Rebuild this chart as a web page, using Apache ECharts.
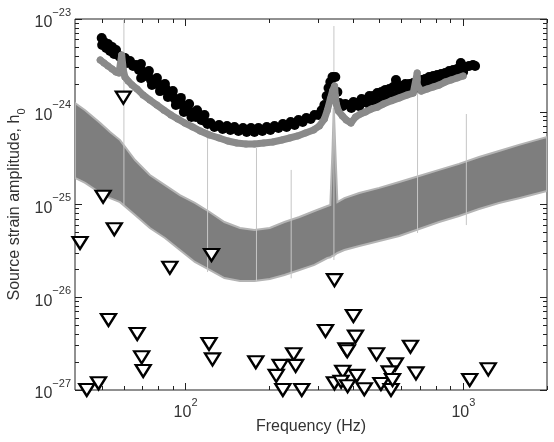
<!DOCTYPE html>
<html>
<head>
<meta charset="utf-8">
<script src="https://cdn.jsdelivr.net/npm/echarts@6/dist/echarts.min.js"></script>
<style>
  html, body { margin: 0; padding: 0; background: #fff; }
  #chart { width: 554px; height: 442px; }
</style>
</head>
<body>
<div id="chart"></div>
<script>
// axis ranges and ticks (Hz, strain)
const xRange = [40, 2000];
const yRange = [1e-27, 1e-23];
const xMajor = [100, 1000];
const xMinor = [50, 60, 70, 80, 90, 200, 300, 400, 500, 600, 700, 800, 900, 2000];
const yMajor = [1e-27, 1e-26, 1e-25, 1e-24, 1e-23];
const yMinorMult = [2, 3, 4, 5, 6, 7, 8, 9];

// noise band envelope
const bandFreq = [40, 43.5, 49.3, 53.5, 58.1, 65.8, 74.4, 84.3, 95.4, 108, 122, 138, 157, 177, 201, 227, 257, 291, 324, 332, 338, 341.6, 346, 352, 373, 422, 498, 588, 693, 818, 965, 1139, 1343, 1585, 2000];
const bandUpper = [1.24e-24, 1.04e-24, 7.57e-25, 6.05e-25, 4.95e-25, 3.02e-25, 2.08e-25, 1.62e-25, 1.26e-25, 1.04e-25, 8.3e-26, 6.47e-26, 5.58e-26, 5.31e-26, 5.58e-26, 6.47e-26, 7.33e-26, 8.51e-26, 9.64e-26, 9.88e-26, 3.87e-25, 1.10e-24, 3.87e-25, 1.06e-25, 1.17e-25, 1.33e-25, 1.51e-25, 1.75e-25, 2.03e-25, 2.36e-25, 2.74e-25, 3.25e-25, 3.78e-25, 4.39e-25, 5.35e-25];
const bandLower = [1.93e-25, 1.71e-25, 1.33e-25, 1.17e-25, 1.06e-25, 7.71e-26, 5.58e-26, 4.36e-26, 3.23e-26, 2.40e-26, 1.97e-26, 1.61e-26, 1.50e-26, 1.50e-26, 1.57e-26, 1.74e-26, 1.97e-26, 2.23e-26, 2.65e-26, 2.7e-26, 2.8e-26, 2.8e-26, 2.9e-26, 3.0e-26, 3.23e-26, 3.57e-26, 4.04e-26, 4.57e-26, 5.45e-26, 6.47e-26, 7.52e-26, 8.93e-26, 1.04e-25, 1.17e-25, 1.40e-25];

// narrow spectral lines
const spikeFreq = [60, 120, 180, 240, 342, 684, 1025];
const spikeTop = [1e-23, 8.57e-25, 4.06e-25, 2.36e-25, 8.4e-24, 2.37e-24, 9.46e-25];
const spikeBottom = [9.9e-26, 1.87e-26, 1.5e-26, 1.6e-26, 2.52e-26, 4.93e-26, 6.0e-26];

// black dots [Hz, h0]
const blackDots = [[49.9,6.24e-24],[50.1,5.24e-24],[50.9,5.65e-24],[51.8,4.87e-24],[52.6,5.38e-24],[53.5,4.52e-24],[54.4,4.99e-24],[55.3,4.20e-24],[56.2,4.63e-24],[57.1,4.09e-24],[58.1,3.89e-24],[60.5,3.80e-24],[61.5,3.35e-24],[63.1,3.53e-24],[64.7,3.11e-24],[66.3,3.19e-24],[68.0,2.82e-24],[69.7,2.75e-24],[71.4,2.43e-24],[73.2,2.49e-24],[75.1,2.20e-24],[76.9,2.09e-24],[78.9,1.99e-24],[80.9,1.94e-24],[82.9,1.72e-24],[85.0,1.76e-24],[87.1,1.55e-24],[89.3,1.52e-24],[91.5,1.37e-24],[93.8,1.27e-24],[96.2,1.24e-24],[98.6,1.13e-24],[101,1.10e-24],[104,9.94e-25],[106,9.69e-25],[109,8.78e-25],[112,9.00e-25],[114,8.15e-25],[117,7.95e-25],[120,7.38e-25],[123,7.56e-25],[127,6.85e-25],[132,7.20e-25],[136,6.52e-25],[141,7.02e-25],[145,6.36e-25],[150,6.85e-25],[155,6.20e-25],[161,6.68e-25],[166,6.05e-25],[172,6.68e-25],[177,6.05e-25],[183,6.68e-25],[189,6.20e-25],[196,6.85e-25],[202,6.36e-25],[209,7.02e-25],[216,6.68e-25],[224,7.38e-25],[231,6.85e-25],[239,7.75e-25],[247,7.20e-25],[255,8.15e-25],[264,7.75e-25],[272,8.56e-25],[282,8.35e-25],[291,9.23e-25],[301,9.23e-25],[309,1.04e-24],[316,1.18e-24],[322,1.48e-24],[327,1.80e-24],[332,2.09e-24],[338,2.37e-24],[346,2.37e-24],[352,1.63e-24],[358,1.24e-24],[367,1.15e-24],[376,1.21e-24],[389,1.18e-24],[402,1.27e-24],[415,1.24e-24],[430,1.37e-24],[444,1.34e-24],[459,1.48e-24],[474,1.48e-24],[490,1.59e-24],[507,1.63e-24],[524,1.72e-24],[541,1.76e-24],[572,2.20e-24],[559,1.85e-24],[578,1.90e-24],[598,1.90e-24],[618,1.99e-24],[639,1.99e-24],[660,2.04e-24],[682,2.15e-24],[705,2.20e-24],[729,2.25e-24],[753,2.37e-24],[779,2.43e-24],[805,2.49e-24],[832,2.55e-24],[860,2.62e-24],[889,2.75e-24],[919,2.82e-24],[949,2.89e-24],[979,3.35e-24],[981,2.96e-24],[1014,3.04e-24],[1048,3.11e-24],[1083,3.19e-24],[1102,3.11e-24],
  [69.1,3.27e-24],[73.8,2.75e-24],[78.9,2.31e-24],[84.3,1.99e-24],[90.0,1.67e-24],[96.2,1.41e-24],[103,1.21e-24],[110,1.04e-24],[117,9.23e-25],
  [69.2,2.31e-24],[75.7,1.94e-24],[80.9,1.67e-24],[86.4,1.44e-24],[92.3,1.18e-24],[98.6,9.94e-25],[105,8.78e-25],
  [395,1.10e-24],[422,1.15e-24],[451,1.24e-24],[482,1.31e-24],[515,1.41e-24],[550,1.52e-24],[588,1.59e-24],[628,1.72e-24],[671,1.80e-24],[717,1.94e-24],[766,2.09e-24],[818,2.20e-24],[874,2.37e-24],[934,2.49e-24],[998,2.68e-24]];

// grey dots [Hz, h0], in frequency order
const greyDots = [[49.3,3.61e-24],[50.9,3.35e-24],[52.6,3.11e-24],[54.4,2.89e-24],[56.2,2.68e-24],[57.6,2.62e-24],[58.9,4.09e-24],[59.7,2.82e-24],[60.5,2.37e-24],[62.1,2.15e-24],[64.2,1.94e-24],[66.9,1.76e-24],[70.3,1.52e-24],[74.4,1.34e-24],[78.9,1.18e-24],[83.6,1.04e-24],[88.6,9.23e-25],[93.8,8.35e-25],[99.4,7.56e-25],[106,6.85e-25],[113,6.20e-25],[122,5.61e-25],[132,5.21e-25],[142,4.84e-25],[153,4.60e-25],[165,4.49e-25],[177,4.49e-25],[191,4.60e-25],[206,4.72e-25],[222,4.96e-25],[237,5.21e-25],[253,5.48e-25],[270,5.90e-25],[289,6.36e-25],[303,7.02e-25],[316,8.35e-25],[324,1.04e-24],[332,1.37e-24],[338,1.67e-24],[344,1.90e-24],[346,1.48e-24],[349,1.21e-24],[355,1.02e-24],[367,9.00e-25],[379,8.15e-25],[394,7.56e-25],[409,8.78e-25],[426,9.46e-25],[444,9.94e-25],[466,1.07e-24],[490,1.12e-24],[515,1.21e-24],[550,1.31e-24],[588,1.41e-24],[628,1.52e-24],[660,1.59e-24],[682,2.62e-24],[682,2.25e-24],[682,1.94e-24],[705,1.67e-24],[741,1.76e-24],[779,1.85e-24],[818,1.94e-24],[860,2.09e-24],[903,2.20e-24],[949,2.31e-24],[998,2.43e-24]];

// open triangles [Hz, h0]
const triangles = [[41.7,3.85e-26],[124,2.85e-26],[87.8,2.08e-26],[343.5,1.53e-26],[52.8,5.69e-27],[402,6.28e-27],[67.0,4.02e-27],[319,4.33e-27],[409,3.76e-27],[121.5,3.13e-27],[378,2.75e-27],[382,2.62e-27],[245,2.43e-27],[487,2.43e-27],[645,2.93e-27],[69.5,2.25e-27],[125,2.14e-27],[179,1.99e-27],[219,1.82e-27],[249,1.82e-27],[569,1.89e-27],[70.4,1.60e-27],[368,1.57e-27],[541,1.55e-27],[675,1.51e-27],[1229,1.67e-27],[212,1.42e-27],[413,1.42e-27],[1054,1.28e-27],[48.6,1.18e-27],[44.1,1.0e-27],[224,1.0e-27],[262,1.0e-27],[343.5,1.18e-27],[363,1.23e-27],[383,1.10e-27],[440,1.02e-27],[505,1.16e-27],[549,1.0e-27],[556,1.28e-27],[59.7,1.42e-24],[50.5,1.21e-25],[55.4,5.41e-26]];

const lg = Math.log10;
const font = 'Liberation Sans';
const ink = '#222';
const greyDot = '#8a8a8a';

const yMinor = [];
for (let d = -27; d < -23; d++) yMinorMult.forEach(m => yMinor.push(m * Math.pow(10, d)));

function powLabel(v) {
  const e = Math.round(v);
  return '{b|10}{s|' + (e < 0 ? '\u2212' + (-e) : e) + '}';
}
const rich = {
  b: { fontSize: 16, lineHeight: 24, verticalAlign: 'bottom', color: '#333', fontFamily: font },
  s: { fontSize: 11, verticalAlign: 'top', color: '#333', fontFamily: font }
};

function axis(dim, pos, ticks, len, withLabels) {
  const range = dim === 'x' ? xRange : yRange;
  const vals = ticks.map(lg);
  return {
    type: 'value',
    position: pos,
    min: lg(range[0]),
    max: lg(range[1]),
    nameMoveOverlap: false,
    axisLine: { show: false },
    splitLine: { show: false },
    axisTick: { show: true, inside: true, length: len, customValues: vals, lineStyle: { color: ink, width: 1 } },
    axisLabel: withLabels
      ? { show: true, customValues: vals, formatter: powLabel, rich: rich, margin: dim === 'x' ? 7 : 4 }
      : { show: false }
  };
}

const xAxes = [
  axis('x', 'bottom', xMajor, 7, true),
  axis('x', 'bottom', xMinor, 4, false),
  axis('x', 'top', xMajor, 7, false),
  axis('x', 'top', xMinor, 4, false)
];
xAxes[0].name = 'Frequency (Hz)';
xAxes[0].nameLocation = 'middle';
xAxes[0].nameGap = 29;
xAxes[0].nameTextStyle = { fontSize: 16, color: '#333', fontFamily: font };

const yAxes = [
  axis('y', 'left', yMajor, 7, true),
  axis('y', 'left', yMinor, 4, false),
  axis('y', 'right', yMajor, 7, false),
  axis('y', 'right', yMinor, 4, false)
];
yAxes[0].name = 'Source strain amplitude, h{sub|0}';
yAxes[0].nameLocation = 'middle';
yAxes[0].nameGap = 48;
yAxes[0].nameTextStyle = {
  fontSize: 16, color: '#333', fontFamily: font,
  rich: { sub: { fontSize: 11, verticalAlign: 'bottom', color: '#333', fontFamily: font, lineHeight: 24 } }
};

const chart = echarts.init(document.getElementById('chart'));
chart.setOption({
  animation: false,
  textStyle: { fontFamily: font },
  grid: { left: 75, right: 7, top: 19, bottom: 52, outerBoundsMode: 'none', containLabel: false, show: true, borderColor: ink, borderWidth: 1 },
  xAxis: xAxes,
  yAxis: yAxes,
  series: [
    {
      type: 'custom',
      silent: true,
      z: 1,
      clip: true,
      data: [[lg(100), lg(1e-25)]],
      renderItem: function (params, api) {
        const pts = bandFreq.map((f, i) => api.coord([lg(f), lg(bandUpper[i])]));
        for (let i = bandFreq.length - 1; i >= 0; i--) pts.push(api.coord([lg(bandFreq[i]), lg(bandLower[i])]));
        return { type: 'polygon', shape: { points: pts }, style: { fill: '#7e7e7e', stroke: '#b4b4b4', lineWidth: 2 } };
      }
    },
    {
      type: 'custom',
      silent: true,
      z: 2,
      clip: true,
      encode: { x: 0, y: [1, 2] },
      data: spikeFreq.map((f, i) => [lg(f), lg(spikeTop[i]), lg(spikeBottom[i])]),
      renderItem: function (params, api) {
        const p1 = api.coord([api.value(0), api.value(1)]);
        const p2 = api.coord([api.value(0), api.value(2)]);
        return { type: 'line', shape: { x1: p1[0], y1: p1[1], x2: p2[0], y2: p2[1] }, style: { stroke: '#c6c6c6', lineWidth: 1 } };
      }
    },
    {
      type: 'scatter',
      z: 3,
      symbol: 'circle',
      symbolSize: 10,
      itemStyle: { color: '#000', opacity: 1 },
      data: blackDots.map(d => [lg(d[0]), lg(d[1])])
    },
    {
      type: 'line',
      z: 4,
      symbol: 'circle',
      symbolSize: 7,
      showSymbol: true,
      itemStyle: { color: greyDot, opacity: 1 },
      lineStyle: { color: greyDot, width: 7, cap: 'round', join: 'round' },
      data: greyDots.map(d => [lg(d[0]), lg(d[1])])
    },
    {
      type: 'scatter',
      z: 5,
      clip: false,
      symbol: 'triangle',
      symbolRotate: 180,
      symbolSize: [15, 12],
      itemStyle: { color: '#fff', borderColor: '#000', borderWidth: 2.3, opacity: 1 },
      data: triangles.map(d => [lg(d[0]), lg(d[1])])
    }
  ]
});
</script>
</body>
</html>
